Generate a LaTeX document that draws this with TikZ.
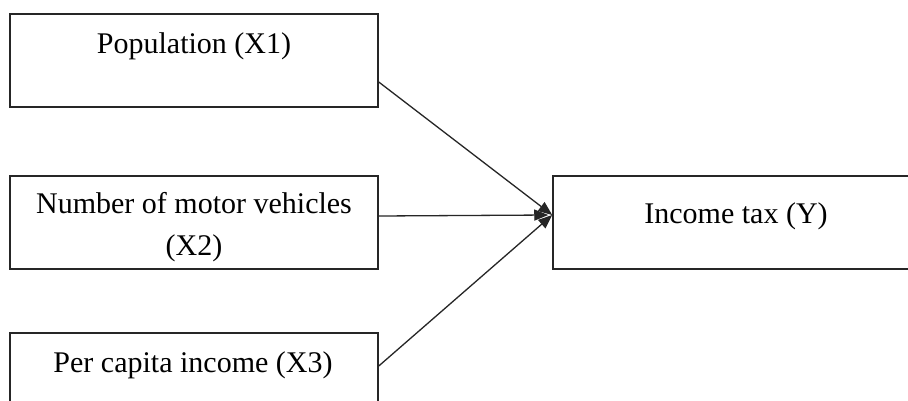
\documentclass[tikz,border=0pt]{standalone}
\usepackage{fontspec}
\setmainfont{Liberation Serif}
\usetikzlibrary{arrows.meta}
\begin{document}
\begin{tikzpicture}[x=1pt,y=-1pt,
  boxnode/.style={draw=black!85, line width=1.5pt, minimum width=368pt, minimum height=93pt, inner sep=0pt},
  label/.style={anchor=base, font=\fontsize{30}{44}\selectfont, inner sep=0pt, align=center},
  conn/.style={draw=black!85, line width=1.3pt, -{Triangle[length=14pt,width=11pt]}}]
\useasboundingbox (0,0) rectangle (908,400);
\clip (0,0) rectangle (908,400);
\fill[white] (0,0) rectangle (908,400);
% boxes
\node[boxnode] (x1) at (194,60.5) {};
\node[boxnode] (x2) at (194,222.5) {};
\node[boxnode] (x3) at (194,379.5) {};
\node[boxnode] (y) at (737,222.5) {};
% texts
\node[label] (t1) at (194,53) {Population (X1)};
\node[label] (t2) at (194,213) {Number of motor vehicles};
\node[label] (t2b) at (194,255) {(X2)};
\node[label] (t3) at (193,372) {Per capita income (X3)};
\node[label] (ty) at (736,223) {Income tax (Y)};
% connectors
\coordinate (tgt) at ([yshift=7.5pt]y.west);
\coordinate (tgt2) at ([xshift=-4pt,yshift=7.5pt]y.west);
\draw[conn] ([yshift=-21.5pt]x1.east) -- (tgt);
\draw[conn] ([yshift=6.5pt]x2.east) -- (tgt2);
\draw[conn] ([yshift=13.5pt]x3.east) -- (tgt);
\end{tikzpicture}
\end{document}
